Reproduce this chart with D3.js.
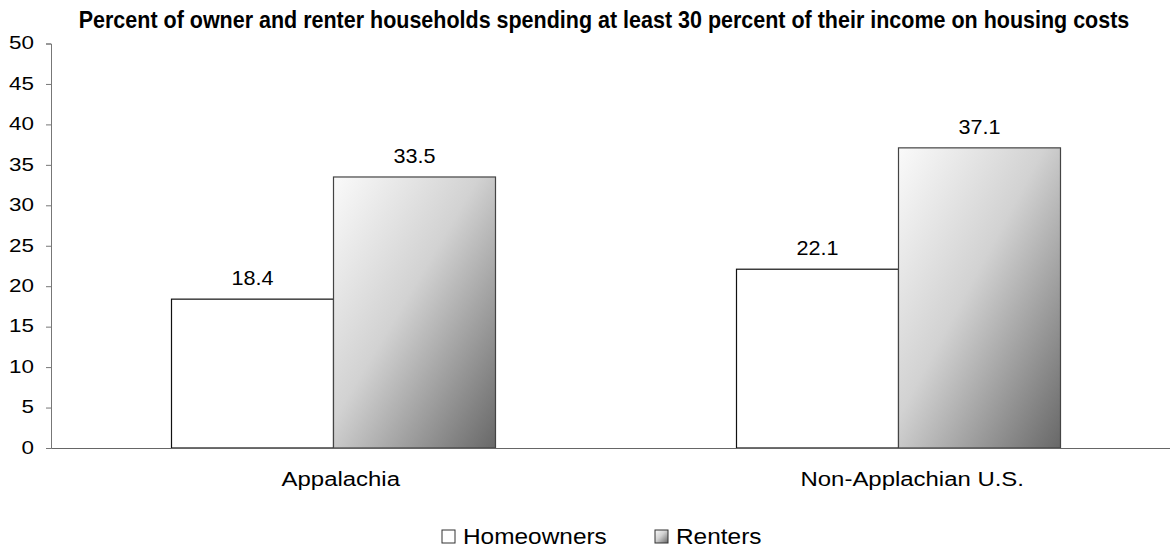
<!DOCTYPE html>
<html>
<head>
<meta charset="utf-8">
<script src="https://cdn.jsdelivr.net/npm/d3@7"></script>
<style>
body{margin:0;background:#fff;}
svg{display:block;}
text{font-family:"Liberation Sans",Arial,sans-serif;fill:#000;}
</style>
</head>
<body>
<svg id="chart" width="1170" height="548"></svg>
<script>
const title = "Percent of owner and renter households spending at least 30 percent of their income on housing costs";
const categories = ["Appalachia", "Non-Applachian U.S."];
const series = ["Homeowners", "Renters"];
const homeowners = [18.4, 22.1];
const renters = [33.5, 37.1];
const yTicks = [0, 5, 10, 15, 20, 25, 30, 35, 40, 45, 50];

const svg = d3.select("#chart");
const defs = svg.append("defs");
const grad = defs.append("linearGradient").attr("id", "rentGrad")
  .attr("x1", "0%").attr("y1", "0%").attr("x2", "100%").attr("y2", "100%");
grad.append("stop").attr("offset", "0%").attr("stop-color", "#fafafa");
grad.append("stop").attr("offset", "45%").attr("stop-color", "#d2d2d2");
grad.append("stop").attr("offset", "100%").attr("stop-color", "#686868");

// horizontal glyph stretch about a pivot (default: the anchor x)
function stretch(sel, s, pivotFn) {
  sel.attr("transform", function () {
    const x = pivotFn ? pivotFn(this) : (+this.getAttribute("x") || 0);
    return `translate(${x},0) scale(${s},1) translate(${-x},0)`;
  });
}

const y = d3.scaleLinear().domain([0, 50]).range([448, 43.5]);
const x0 = d3.scaleBand().domain(categories).range([51, 1181]).padding(0);
const x1 = d3.scaleBand().domain(series).range([120.5, 444.5]).padding(0);

// title: fit to width by scaling glyphs
const tt = svg.append("text").attr("x", 604).attr("y", 28).attr("text-anchor", "middle")
  .style("font-family", "'Liberation Sans Narrow','Arial Narrow',sans-serif")
  .style("font-weight", "bold").style("font-size", "23px")
  .text(title);
const tw = tt.node().getComputedTextLength();
stretch(tt, 1051 / tw);

// y axis
const yAxis = svg.append("g").attr("transform", "translate(51,0)")
  .call(d3.axisLeft(y).tickValues(yTicks).tickSize(5).tickPadding(12));
yAxis.select(".domain").attr("stroke", "#777");
yAxis.selectAll(".tick line").attr("stroke", "#777");
yAxis.selectAll(".tick text").style("font-size", "19px").attr("font-family", null)
  .attr("x", -17).attr("dy", "0.28em");
stretch(yAxis.selectAll(".tick text"), 1.18);

// bars
const data = categories.map((c, i) => ({cat: c, vals: [
  {s: "Homeowners", v: homeowners[i]},
  {s: "Renters", v: renters[i]}
]}));

const groups = svg.append("g").selectAll("g").data(data).join("g")
  .attr("transform", d => `translate(${x0(d.cat)},0)`);

groups.selectAll("rect").data(d => d.vals).join("rect")
  .attr("x", d => x1(d.s)).attr("width", x1.bandwidth())
  .attr("y", d => y(d.v)).attr("height", d => y(0) - y(d.v))
  .attr("fill", d => d.s === "Renters" ? "url(#rentGrad)" : "#fff")
  .attr("stroke", d => d.s === "Renters" ? "#444" : "#111")
  .attr("stroke-width", 1.2);

const vl = groups.selectAll("text.val").data(d => d.vals).join("text").attr("class", "val")
  .attr("x", d => x1(d.s) + x1.bandwidth() / 2)
  .attr("y", d => y(d.v) - 14)
  .attr("text-anchor", "middle").style("font-size", "20px")
  .text(d => d.v.toFixed(1));
stretch(vl, 1.08);

// x axis
const xAxis = svg.append("g").attr("transform", "translate(0,448)")
  .call(d3.axisBottom(x0).tickSize(0).tickPadding(23));
xAxis.select(".domain").attr("stroke", "#666").attr("stroke-width", 1.2);
xAxis.selectAll(".tick text").style("font-size", "21px").attr("font-family", null);
// stretched from the left edge of the centred label
stretch(xAxis.selectAll(".tick text"), 1.14, n => -n.getComputedTextLength() / 2);

// legend
const legend = svg.append("g");
const legItems = [{s: "Homeowners", x: 442}, {s: "Renters", x: 655}];
legItems.forEach(it => {
  const g = legend.append("g").attr("transform", `translate(${it.x},530)`);
  g.append("rect").attr("width", 13).attr("height", 13)
    .attr("fill", it.s === "Renters" ? "url(#rentGrad)" : "#fff")
    .attr("stroke", "#333").attr("stroke-width", 1);
  const t = g.append("text").attr("x", 21).attr("y", 13.5).style("font-size", "22px").text(it.s);
  stretch(t, 1.11);
});
</script>
</body>
</html>
